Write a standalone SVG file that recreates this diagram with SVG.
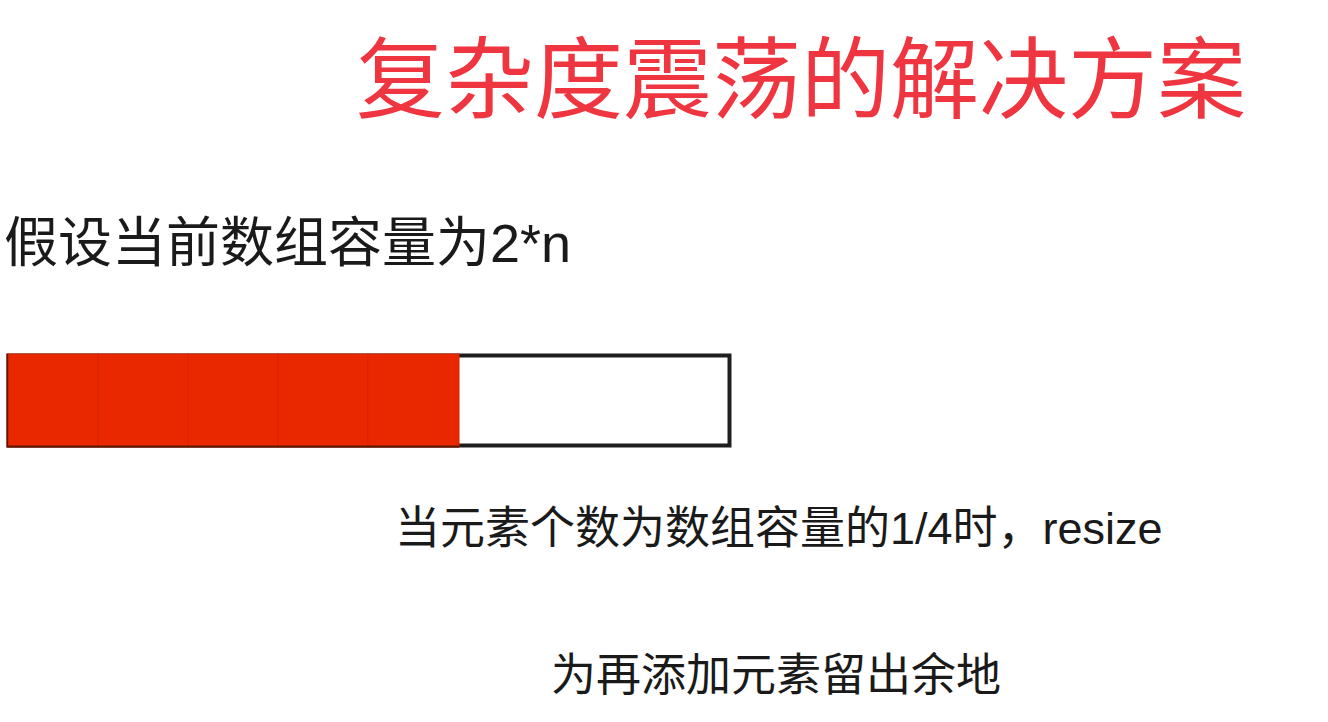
<svg xmlns="http://www.w3.org/2000/svg" width="1328" height="722" viewBox="0 0 1328 722">
<style>
text{font-family:"Liberation Sans","Noto Sans CJK SC",sans-serif;}
.title{fill:#EF3540;font-size:89px;}
.body{fill:#1a1a1a;font-size:45px;}
.cell{fill:#EA2800;stroke:#D82500;stroke-width:1;}
</style>
<rect width="1328" height="722" fill="#ffffff"/>
<g id="title"><text class="title" x="356" y="111">复杂度震荡的解决方案</text></g>
<g id="assume"><text class="body" x="4" y="262" style="font-size:54px">假设当前数组容量为2*n</text></g>
<g id="array">
<rect x="8.5" y="355.5" width="721" height="90" fill="#ffffff" stroke="#1e1e1e" stroke-width="4"/>
<rect class="cell" x="7" y="354" width="91" height="93"/>
<rect class="cell" x="98" y="354" width="90" height="93"/>
<rect class="cell" x="188" y="354" width="90" height="93"/>
<rect class="cell" x="278" y="354" width="90" height="93"/>
<rect class="cell" x="368" y="354" width="91" height="93"/>
<line x1="7" y1="446.5" x2="459" y2="446.5" stroke="#5a1a08" stroke-width="2"/>
<line x1="7.5" y1="354" x2="7.5" y2="447" stroke="#5a1a08" stroke-width="1.5"/>
</g>
<g id="note1"><text class="body" x="395" y="544">当元素个数为数组容量的1/4时，resize</text></g>
<g id="note2"><text class="body" x="551" y="691">为再添加元素留出余地</text></g>
</svg>
